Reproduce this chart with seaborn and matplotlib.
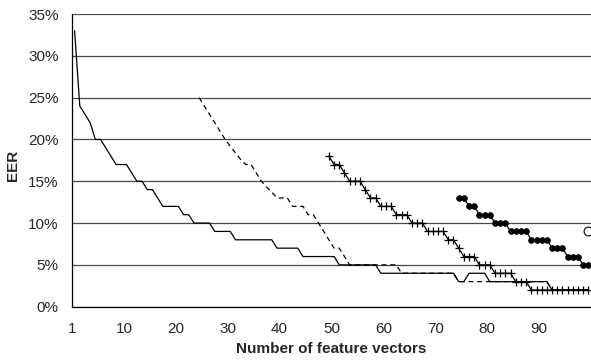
import numpy as np
import pandas as pd
import matplotlib
matplotlib.use('Agg')
import matplotlib.pyplot as plt
from matplotlib.ticker import PercentFormatter, FixedLocator
import seaborn as sns

sns.set_style('white')
plt.rcParams['font.family'] = ['Liberation Sans', 'DejaVu Sans']

# EER (%) against number of feature vectors, one list per curve
solid_start = 1
solid_eer = [33, 24, 23, 22, 20, 20, 19, 18, 17, 17,
             17, 16, 15, 15, 14, 14, 13, 12, 12, 12,
             12, 11, 11, 10, 10, 10, 10, 9, 9, 9,
             9, 8, 8, 8, 8, 8, 8, 8, 8, 7,
             7, 7, 7, 7, 6, 6, 6, 6, 6, 6,
             6, 5, 5, 5, 5, 5, 5, 5, 5, 4,
             4, 4, 4, 4, 4, 4, 4, 4, 4, 4,
             4, 4, 4, 4, 3, 3, 4, 4, 4, 4,
             3, 3, 3, 3, 3, 3, 3, 3, 3, 3,
             3, 3, 2, 2, 2, 2, 2, 2, 2, 2]

dashed_start = 25
dashed_eer = [25, 24, 23, 22, 21, 20,
              19.2, 18.4, 17.6, 17, 17, 16, 15, 14.3, 13.7, 13,
              13, 13, 12, 12, 12, 11, 11, 10, 9, 8,
              7, 7, 6, 5, 5, 5, 5, 5, 5, 5,
              5, 5, 5, 4, 4, 4, 4, 4, 4, 4,
              4, 4, 4, 4, 3, 3, 3, 3, 3, 3,
              3, 3, 3, 3, 3, 3, 3, 3, 3, 3,
              3, 3, 2, 2, 2, 2, 2, 2, 2, 2]

plus_start = 50
plus_eer = [18, 17, 17, 16, 15, 15, 15, 14, 13, 13,
            12, 12, 12, 11, 11, 11, 10, 10, 10, 9,
            9, 9, 9, 8, 8, 7, 6, 6, 6, 5,
            5, 5, 4, 4, 4, 4, 3, 3, 3, 2,
            2, 2, 2, 2, 2, 2, 2, 2, 2, 2, 2]

dot_start = 75
dot_eer = [13, 13, 12, 12, 11, 11, 11, 10, 10, 10,
           9, 9, 9, 9, 8, 8, 8, 8, 7, 7,
           7, 6, 6, 6, 5, 5]

open_n = [100]
open_eer = [9]

tick_labels = ['1', '10', '20', '30', '40', '50', '60', '70', '80', '90']


def make_df(start, vals):
    return pd.DataFrame({'n': np.arange(start, start + len(vals)), 'eer': vals})


fig = plt.figure(figsize=(5.91, 3.62), dpi=100)
ax = fig.add_axes([72 / 591, 1 - 306.7 / 362, 519 / 591, 292.7 / 362])

sns.lineplot(data=make_df(solid_start, solid_eer), x='n', y='eer', ax=ax,
             color='black', lw=0.9, errorbar=None)
sns.lineplot(data=make_df(dashed_start, dashed_eer), x='n', y='eer', ax=ax,
             color='black', lw=0.9, linestyle=(0, (4, 3)), errorbar=None)
sns.lineplot(data=make_df(plus_start, plus_eer), x='n', y='eer', ax=ax,
             color='black', lw=0.9, marker='+', ms=6, mew=0.9, mec='black',
             errorbar=None)
sns.lineplot(data=make_df(dot_start, dot_eer), x='n', y='eer', ax=ax,
             color='black', lw=0.9, marker='o', ms=4.2, mew=0.5, mec='black',
             mfc='black', errorbar=None)
sns.scatterplot(x=open_n, y=open_eer, ax=ax, marker='o', s=40,
                facecolor='white', edgecolor='black', linewidth=0.8,
                clip_on=False, zorder=5)

ax.set_xlim(0.5, 100.5)
ax.set_ylim(0, 35)
ax.xaxis.set_major_locator(FixedLocator(np.arange(0.5, 100.6, 10)))
ax.xaxis.set_minor_locator(FixedLocator(np.arange(5.5, 100.6, 10)))
ax.set_xticklabels(tick_labels + [''])
ax.set_yticks(np.arange(0, 36, 5))
ax.yaxis.set_major_formatter(PercentFormatter(decimals=0))

ax.yaxis.grid(True, color='#4a4a4a', lw=0.9)
ax.set_axisbelow(True)
for side in ['top', 'right']:
    ax.spines[side].set_visible(False)
for side in ['left', 'bottom']:
    ax.spines[side].set_color('black')
    ax.spines[side].set_linewidth(0.9)

ax.tick_params(axis='x', which='both', direction='out', length=3.6, width=0.9,
               color='black', pad=7.5, labelsize=11)
ax.tick_params(axis='y', direction='out', length=3.6, width=0.9,
               color='black', pad=6, labelsize=11)

ax.set_xlabel('Number of feature vectors', fontsize=11, fontweight='bold')
ax.set_ylabel('EER', fontsize=11, fontweight='bold')
ax.xaxis.set_label_coords(0.5, -0.122)
ax.yaxis.set_label_coords(-0.1, 0.484)

plt.savefig('out.png', dpi=100)
